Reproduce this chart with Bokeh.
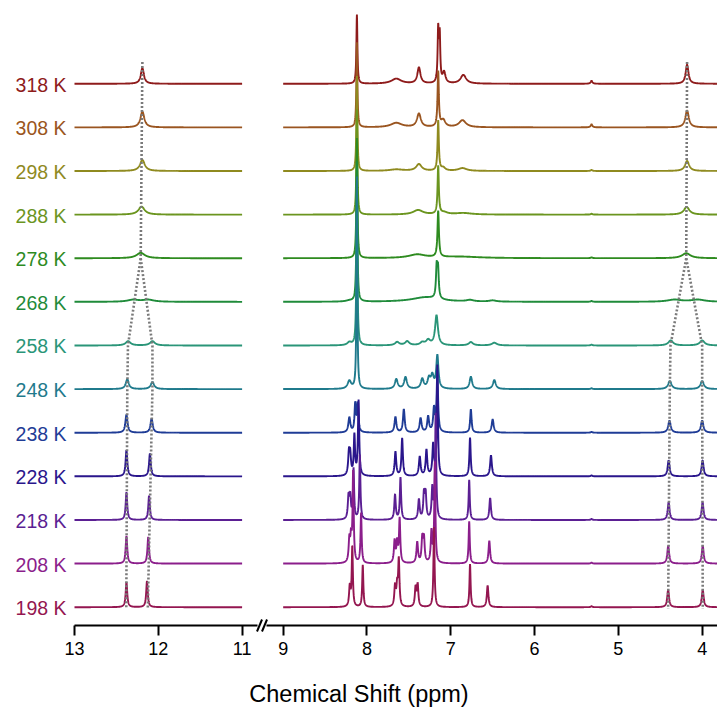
import numpy as np
from bokeh.plotting import figure
from bokeh.models import Range1d, FixedTicker
from bokeh.core.properties import value
from bokeh.embed import file_html
from bokeh.resources import INLINE

# ---------------- data ----------------
temperatures = [318, 308, 298, 288, 278, 268, 258, 248, 238, 228, 218, 208, 198]
temp_labels = ["%d K" % t for t in temperatures]
line_colors = ["#8E1B1B", "#9A5520", "#8F8A1F", "#6B951F", "#2E8B1F", "#1F8B3A",
               "#2A9578", "#1F7A8C", "#1F3C96", "#2A168C", "#5B1F93", "#8B1E8B", "#941650"]

# peaks: (shift ppm, intensity a.u., half width ppm)
peaks_318 = [(12.19, 15.6, 0.022),
             (8.12, 69, 0.007), (7.65, 5, 0.07), (7.38, 16, 0.022), (7.15, 52, 0.008),
             (7.132, 46, 0.008), (7.08, 11, 0.02), (6.85, 8.7, 0.04), (5.32, 3, 0.012),
             (4.18, 19, 0.02)]
peaks_308 = [(12.19, 15.7, 0.028),
             (8.12, 85, 0.007), (7.65, 4.4, 0.08), (7.38, 13.4, 0.028), (7.15, 55, 0.009),
             (7.09, 7, 0.03), (6.86, 7, 0.05), (5.32, 3, 0.012), (4.18, 16.7, 0.025)]
peaks_298 = [(12.19, 11, 0.035),
             (8.12, 95, 0.007), (7.65, 1.5, 0.1), (7.38, 6.7, 0.04), (7.15, 50, 0.009),
             (7.09, 3, 0.03), (6.86, 2.8, 0.06), (5.32, 1, 0.012), (4.18, 10, 0.03)]
peaks_288 = [(12.2, 8, 0.045),
             (8.12, 105, 0.007), (7.39, 4.5, 0.07), (7.15, 48, 0.009), (7.08, 2, 0.05),
             (6.85, 1.5, 0.12), (5.32, 0.8, 0.012), (4.185, 7.6, 0.04)]
peaks_278 = [(12.21, 5.4, 0.06),
             (8.12, 120, 0.007), (7.40, 3.5, 0.12), (7.15, 46, 0.01), (6.9, 1.5, 0.3),
             (5.32, 0.8, 0.012), (4.19, 5, 0.06)]
peaks_268 = [(12.3, 2.0, 0.08), (12.12, 2.0, 0.08),
             (8.21, 1, 0.05), (8.12, 140, 0.007), (7.3, 4.5, 0.2), (7.168, 30, 0.01),
             (7.152, 28, 0.01), (6.77, 1.5, 0.05), (6.5, 1.2, 0.05), (5.32, 0.8, 0.012),
             (4.33, 2.1, 0.1), (4.05, 2.1, 0.1)]
peaks_258 = [(12.36, 4.3, 0.035), (12.07, 4.3, 0.035),
             (8.21, 3, 0.03), (8.12, 165, 0.007), (7.64, 3.3, 0.03), (7.52, 4, 0.03),
             (7.34, 2.7, 0.03), (7.27, 5, 0.03), (7.17, 30, 0.02), (6.76, 3.3, 0.03),
             (6.48, 2.7, 0.035), (5.32, 0.8, 0.012), (4.375, 5, 0.035), (4.0, 5, 0.035)]
peaks_248 = [(12.37, 9.7, 0.022), (12.07, 7, 0.025),
             (8.21, 8, 0.025), (8.12, 212, 0.006), (7.65, 9.7, 0.02), (7.54, 11.7, 0.02),
             (7.34, 9.7, 0.02), (7.26, 9.7, 0.02), (7.22, 12.3, 0.02), (7.16, 33, 0.015),
             (6.76, 12.3, 0.018), (6.48, 9, 0.02), (5.32, 0.8, 0.012),
             (4.386, 8, 0.025), (4.0, 8, 0.025)]
peaks_238 = [(12.38, 18, 0.015), (12.08, 14, 0.016),
             (8.21, 15, 0.014), (8.14, 28, 0.01), (8.11, 28, 0.01), (7.66, 15.7, 0.013),
             (7.56, 23.3, 0.012), (7.36, 14.3, 0.014), (7.27, 15.7, 0.013), (7.20, 23.3, 0.012),
             (7.16, 60, 0.01), (6.76, 23.3, 0.01), (6.50, 13.3, 0.014), (5.32, 0.8, 0.012),
             (4.39, 12, 0.018), (4.0, 12, 0.018)]
peaks_228 = [(12.38, 26, 0.012), (12.10, 22.7, 0.012),
             (8.215, 21, 0.011), (8.20, 19, 0.011), (8.15, 40, 0.009), (8.10, 75, 0.009),
             (7.66, 24.3, 0.011), (7.58, 37.7, 0.01), (7.37, 19.3, 0.012), (7.29, 26, 0.011),
             (7.21, 31, 0.011), (7.16, 110, 0.008), (6.77, 38.7, 0.009), (6.52, 21, 0.012),
             (5.32, 1, 0.01), (4.40, 16, 0.014), (3.995, 16, 0.014)]
peaks_218 = [(12.38, 27.7, 0.011), (12.11, 24.3, 0.011),
             (8.22, 22, 0.01), (8.20, 22, 0.01), (8.16, 50, 0.008), (8.085, 65, 0.008),
             (7.665, 25, 0.01), (7.60, 42, 0.009), (7.38, 20, 0.011), (7.32, 25, 0.01),
             (7.30, 25, 0.01), (7.22, 31, 0.01), (7.18, 105, 0.008), (6.78, 40, 0.008),
             (6.53, 22, 0.011), (5.32, 1, 0.01), (4.40, 17.7, 0.013), (3.995, 17.7, 0.013)]
peaks_208 = [(12.38, 27.7, 0.011), (12.12, 26.7, 0.011),
             (8.21, 22, 0.01), (8.19, 23, 0.01), (8.165, 90, 0.008), (8.07, 50, 0.008),
             (7.67, 22, 0.01), (7.64, 20, 0.01), (7.61, 44, 0.009), (7.40, 21, 0.011),
             (7.34, 24, 0.01), (7.32, 24, 0.01), (7.23, 31, 0.01), (7.19, 100, 0.008),
             (6.78, 42, 0.008), (6.54, 22.7, 0.011), (5.32, 1, 0.01),
             (4.405, 17.7, 0.013), (3.993, 17.7, 0.013)]
peaks_198 = [(12.38, 25, 0.011), (12.135, 26, 0.011),
             (8.205, 20, 0.01), (8.175, 60, 0.008), (8.05, 42, 0.008), (7.665, 20, 0.01),
             (7.64, 19, 0.01), (7.62, 46, 0.009), (7.42, 19, 0.01), (7.395, 22, 0.01),
             (7.20, 80, 0.008), (6.77, 43, 0.008), (6.56, 21.7, 0.011), (5.32, 1, 0.01),
             (4.406, 17.3, 0.013), (3.993, 17.3, 0.013)]

peak_table = [peaks_318, peaks_308, peaks_298, peaks_288, peaks_278, peaks_268, peaks_258,
              peaks_248, peaks_238, peaks_228, peaks_218, peaks_208, peaks_198]

# dotted guide lines (row position: 0 = 198 K ... 12 = 318 K)
nh_stem_rows = [12.5, 8]
nh_stem_ppm = [12.19, 12.21]
nh_branch_rows = [8, 6, 5, 0, -0.04]
nh_low_ppm = [12.21, 12.362, 12.37, 12.382, 12.382]
nh_high_ppm = [12.21, 12.07, 12.07, 12.125, 12.125]
ch_stem_rows = [12.5, 8]
ch_stem_ppm = [4.18, 4.19]
ch_low_ppm = [4.19, 4.378, 4.386, 4.406, 4.406]
ch_high_ppm = [4.19, 4.0, 4.0, 3.993, 3.993]

tick_ppm = [13, 12, 11, 9, 8, 7, 6, 5, 4]

# ---------------- layout helpers ----------------
PX = 83.8          # pixels per ppm
GAP = 0.49         # gap between panels (ppm units of screen)
X0 = 74.0          # pixel of 13 ppm
BASE0 = 18.3       # baseline of 198 K above axis line (px)
ROW = 43.62        # row spacing (px)


def to_d(ppm):
    ppm = np.asarray(ppm, dtype=float)
    return np.where(ppm >= 10, 13 - ppm, 2 + GAP + (9 - ppm))


def px_to_d(px):
    return (px - X0) / PX


def row_y(r):
    return BASE0 + np.asarray(r, dtype=float) * ROW


def spectrum(x, peaks):
    y = np.zeros_like(x)
    for c, h, g in peaks:
        y += h * g * g / ((x - c) ** 2 + g * g)
    return y


d_min = px_to_d(0)
d_max = px_to_d(717)

p = figure(width=717, height=712, x_range=Range1d(d_min, d_max), y_range=Range1d(-8, 625),
           output_backend="svg", toolbar_location=None, y_axis_location=None,
           min_border_left=0, min_border_right=0, min_border_top=0, min_border_bottom=79)
p.xgrid.visible = False
p.ygrid.visible = False
p.outline_line_color = None
p.background_fill_color = "white"
p.border_fill_color = "white"

left_ppm = np.linspace(13, 11, 1001)
right_ppm = np.linspace(9, 3.8, 2601)

n = len(temperatures)
for i, (t, peaks, col) in enumerate(zip(temperatures, peak_table, line_colors)):
    r = (t - 198) / 10.0
    base = float(row_y(r))
    p.line(to_d(left_ppm), base + spectrum(left_ppm, peaks), line_color=col, line_width=1.9)
    p.line(to_d(right_ppm), base + spectrum(right_ppm, peaks), line_color=col, line_width=1.9)

# guide lines
guide = dict(line_color="#7a7a7a", line_width=2.6, line_dash="2 2")
for stem_r, stem_p, br_r, lo, hi in [(nh_stem_rows, nh_stem_ppm, nh_branch_rows, nh_low_ppm, nh_high_ppm),
                                     (ch_stem_rows, ch_stem_ppm, nh_branch_rows, ch_low_ppm, ch_high_ppm)]:
    p.line(to_d(stem_p), row_y(stem_r), **guide)
    p.line(to_d(lo), row_y(br_r), **guide)
    p.line(to_d(hi), row_y(br_r), **guide)

# temperature labels
p.text(x=[px_to_d(66)] * n, y=[float(row_y((t - 198) / 10.0)) - 1 for t in temperatures],
       text=temp_labels, text_color=line_colors, text_align="right", text_baseline="middle",
       text_font=value("Liberation Sans"), text_font_size=value("19.5px"))

# broken axis line with break marks
p.segment(x0=[px_to_d(74), px_to_d(266)], y0=[0, 0], x1=[px_to_d(257), px_to_d(720)], y1=[0, 0],
          line_color="black", line_width=2)
p.segment(x0=[px_to_d(256.5), px_to_d(261.5)], y0=[-6, -6],
          x1=[px_to_d(261.5), px_to_d(266.5)], y1=[6, 6], line_color="black", line_width=2)

tick_d = [float(v) for v in to_d(tick_ppm)]
ax = p.xaxis[0]
ax.ticker = FixedTicker(ticks=tick_d)
ax.major_label_overrides = {d: str(v) for d, v in zip(tick_d, tick_ppm)}
ax.axis_line_color = None
ax.major_tick_in = 8
ax.major_tick_out = 2
ax.major_tick_line_width = 2
ax.major_tick_line_color = "black"
ax.minor_tick_line_color = None
ax.major_label_text_font = "Liberation Sans"
ax.major_label_text_font_size = "18px"
ax.major_label_text_color = "black"
ax.major_label_standoff = 6
ax.axis_label = "Chemical Shift (ppm)"
ax.axis_label_text_font = "Liberation Sans"
ax.axis_label_text_font_size = "23.5px"
ax.axis_label_text_font_style = "normal"
ax.axis_label_text_color = "black"
ax.axis_label_standoff = 23

open("out.html", "w").write(file_html(p, INLINE))
